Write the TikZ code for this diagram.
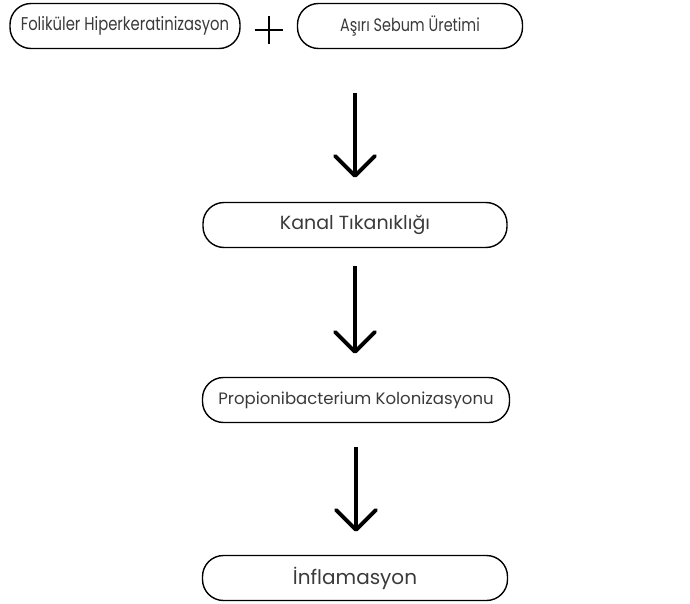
\documentclass[tikz,border=0pt]{standalone}
\usepackage{fontspec}
\setmainfont{Poppins}
\newfontfamily\narrowfont[FakeStretch=0.8]{Poppins}
\usepackage{tikz}
\usetikzlibrary{arrows.meta}
\definecolor{txt}{HTML}{3A3A3A}

\begin{document}
\begin{tikzpicture}[x=1pt,y=-1pt,
  box/.style={draw=black,line width=1.4pt,rounded corners=21pt,minimum height=45pt,text=txt,inner sep=0pt},
  arr/.style={line width=3.8pt,-{Straight Barb[length=20pt,width=40pt,round]}}]
  \useasboundingbox (0,0) rectangle (690,604);

  \node[box,minimum width=230pt] (fol) at (125,26) {\narrowfont\fontsize{18.5}{20}\selectfont\raisebox{-3pt}{Foliküler Hiperkeratinizasyon}};
  \node[box,minimum width=225pt] (sebum) at (410,26) {\narrowfont\fontsize{18}{20}\selectfont\raisebox{-3pt}{Aşırı Sebum Üretimi}};
  \node[minimum size=28pt,inner sep=0pt] (plus) at (269,30) {};
  \draw[line width=1.4pt] (plus.north) -- (plus.south) (plus.west) -- (plus.east);

  \node[box,minimum width=304pt] (kanal) at (355,225) {\fontsize{19}{22}\selectfont Kanal Tıkanıklığı};
  \node[box,minimum width=307pt] (prop) at (356,400) {\fontsize{16.5}{19}\selectfont Propionibacterium Kolonizasyonu};
  \node[box,minimum width=305pt] (infl) at (355,578) {\fontsize{20}{23}\selectfont İnflamasyon};

  \coordinate (top) at (355,50);
  \draw[arr,shorten <=43pt,shorten >=24pt] (top) -- (top |- kanal.north);
  \draw[arr,shorten <=18pt,shorten >=23pt] (kanal.south) -- (kanal.south |- prop.north);
  \draw[arr,shorten <=24pt,shorten >=23pt] (prop.south) -- (prop.south |- infl.north);
\end{tikzpicture}
\end{document}
